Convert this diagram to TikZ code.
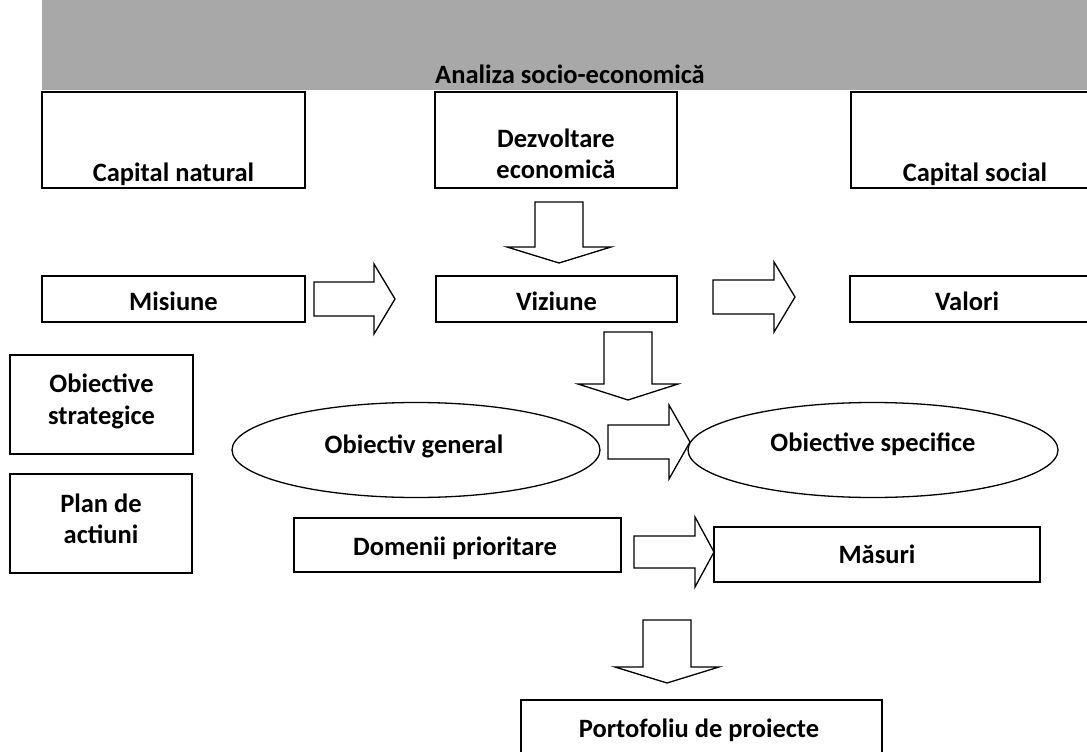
\documentclass[tikz,border=0pt]{standalone}
\usepackage{fontspec}
\setmainfont{Carlito}
\usetikzlibrary{shapes.geometric}
\definecolor{bandgray}{RGB}{168,168,168}
\begin{document}
\begin{tikzpicture}[x=1pt,y=-1pt,
  box/.style={draw=black, line width=1.3pt, fill=white, inner sep=0pt, rectangle},
  oval/.style={draw=black, line width=1.3pt, fill=white, inner sep=0pt, ellipse},
  lbl/.style={font=\bfseries\fontsize{26.5}{31}\selectfont, inner sep=0pt, anchor=base},
  barrow/.style={draw=black, line width=1.3pt, fill=white, line join=miter}]
\useasboundingbox (0,0) rectangle (1087,752);
\clip (0,0) rectangle (1087,752);
% band
\fill[bandgray] (42,0) rectangle (1087,90);
\node[lbl] (band) at (570,83) {Analiza socio-economică};
% top row
\node[box, minimum width=263pt, minimum height=96pt] (cn) at (173.5,140) {};
\node[lbl] (cnt) at (173.5,181) {Capital natural};
\node[box, minimum width=242pt, minimum height=96pt] (dez) at (556,140) {};
\node[lbl] (dezt1) at (556,147) {Dezvoltare};
\node[lbl] (dezt2) at (556,178) {economică};
\node[box, minimum width=244pt, minimum height=96pt] (cs) at (973,140) {};
\node[lbl] (cst) at (975,181) {Capital social};
% second row
\node[box, minimum width=263pt, minimum height=46pt] (mis) at (173.5,299) {};
\node[lbl] (mist) at (173.5,310) {Misiune};
\node[box, minimum width=241pt, minimum height=46pt] (viz) at (556.5,299) {};
\node[lbl] (vizt) at (556.5,310) {Viziune};
\node[box, minimum width=245pt, minimum height=46pt] (val) at (972.5,299) {};
\node[lbl] (valt) at (967,310) {Valori};
% left boxes
\node[box, minimum width=183pt, minimum height=99pt] (obs) at (101.5,404.5) {};
\node[lbl] (obst1) at (101.5,392) {Obiective};
\node[lbl] (obst2) at (101.5,424) {strategice};
\node[box, minimum width=182pt, minimum height=99pt] (plan) at (101,523.5) {};
\node[lbl] (plant1) at (101,512) {Plan de};
\node[lbl] (plant2) at (101,543) {actiuni};
% ellipses
\node[oval, minimum width=368pt, minimum height=95pt] (og) at (416,450) {};
\node[lbl] (ogt) at (414,453) {Obiectiv general};
\node[oval, minimum width=370pt, minimum height=95pt] (os) at (873,450) {};
\node[lbl] (ost) at (873,451) {Obiective specifice};
% lower boxes
\node[box, minimum width=327pt, minimum height=54pt] (dom) at (457.5,545) {};
\node[lbl] (domt) at (455,555) {Domenii prioritare};
\node[box, minimum width=326pt, minimum height=55pt] (mas) at (877,554.5) {};
\node[lbl] (mast) at (877,563) {Măsuri};
\node[box, minimum width=361pt, minimum height=70pt] (port) at (701.5,735) {};
\node[lbl] (portt) at (699,737) {Portofoliu de proiecte};
% block arrows
\draw[barrow] (535,202) -- (583,202) -- (583,247) -- (611,247) -- (559,263) -- (507,247) -- (535,247) -- cycle;
\draw[barrow] (314,282) -- (374,282) -- (374,264) -- (395,299) -- (374,334) -- (374,316) -- (314,316) -- cycle;
\draw[barrow] (713,280) -- (774,280) -- (774,262) -- (795,297) -- (774,332) -- (774,314) -- (713,314) -- cycle;
\draw[barrow] (604,332) -- (652,332) -- (652,384) -- (678,384) -- (628,400) -- (578,384) -- (604,384) -- cycle;
\draw[barrow] (608,425) -- (669,425) -- (669,405) -- (690,442) -- (669,479) -- (669,459) -- (608,459) -- cycle;
\draw[barrow] (634,536) -- (695,536) -- (695,517) -- (714,552) -- (695,587) -- (695,568) -- (634,568) -- cycle;
\draw[barrow] (643,620) -- (691,620) -- (691,667) -- (719,667) -- (667,683) -- (615,667) -- (643,667) -- cycle;
\end{tikzpicture}
\end{document}
